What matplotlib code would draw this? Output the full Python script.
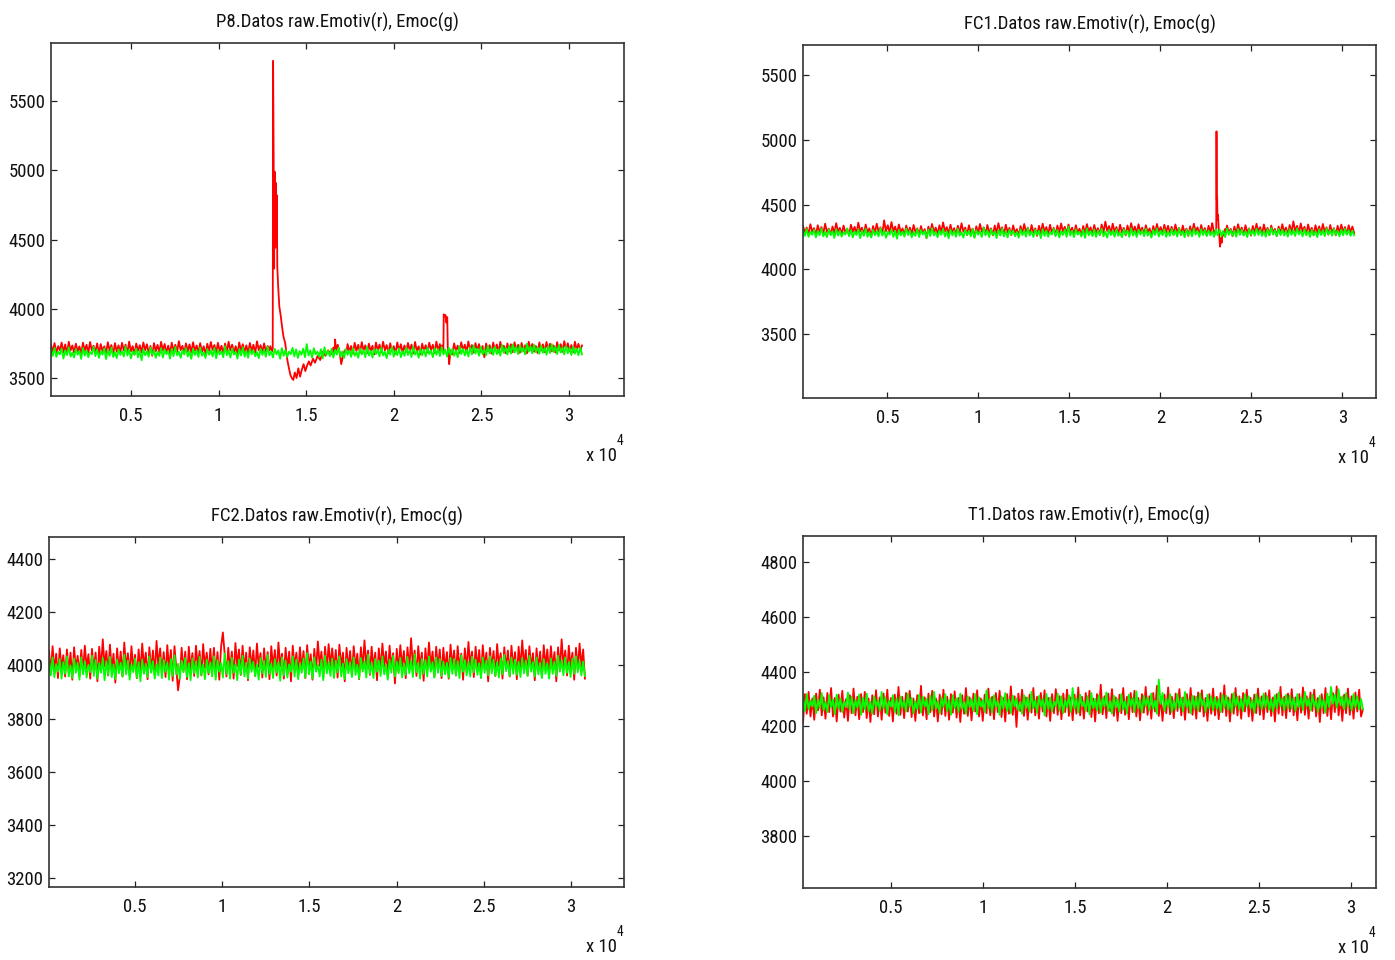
import numpy as np
import matplotlib
matplotlib.use("Agg")
import matplotlib.pyplot as plt

plt.rcParams['font.family'] = ['Liberation Sans Narrow', 'Roboto Condensed', 'Open Sans Condensed',
                               'Liberation Sans', 'DejaVu Sans']

RED = '#ff0000'
GREEN = '#00ff00'

# ---------------- P8 ----------------
p8_title = 'P8.Datos raw.Emotiv(r), Emoc(g)'
p8_span = (433, 30742)
p8_green = [
    3705, 3660, 3718, 3652, 3690, 3671, 3712, 3640, 3698, 3665, 3722, 3655, 3684, 3648, 3710, 3668, 3695, 3638, 3716, 3662,
    3700, 3650, 3688, 3672, 3725, 3658, 3706, 3645, 3692, 3669, 3714, 3636, 3702, 3660, 3720, 3652, 3686, 3644, 3708, 3666,
    3696, 3655, 3728, 3662, 3704, 3641, 3690, 3670, 3712, 3650, 3699, 3628, 3708, 3664, 3694, 3653, 3720, 3667, 3702, 3645,
    3688, 3660, 3715, 3648, 3706, 3672, 3697, 3640, 3710, 3658, 3724, 3663, 3690, 3646, 3703, 3670, 3716, 3655, 3692, 3638,
    3712, 3666, 3700, 3652, 3720, 3661, 3686, 3644, 3709, 3668, 3698, 3656, 3717, 3642, 3705, 3670, 3693, 3650, 3730, 3664,
    3701, 3648, 3714, 3669, 3690, 3640, 3708, 3662, 3722, 3655, 3696, 3646, 3711, 3671, 3700, 3657, 3688, 3643, 3712, 3666,
    3704, 3653, 3726, 3664, 3692, 3648, 3710, 3670, 3699, 3639, 3716, 3660, 3703, 3652, 3690, 3672, 3718, 3656, 3707, 3645,
    3694, 3668, 3712, 3650, 3745, 3662, 3700, 3647, 3715, 3671, 3690, 3654, 3708, 3641, 3722, 3665, 3697, 3657, 3711, 3648,
    3703, 3669, 3720, 3655, 3692, 3644, 3709, 3667, 3698, 3652, 3716, 3661, 3688, 3646, 3713, 3670, 3701, 3650, 3724, 3663,
    3696, 3648, 3710, 3672, 3704, 3656, 3719, 3662, 3690, 3643, 3707, 3668, 3722, 3654, 3699, 3665, 3714, 3650, 3693, 3660,
    3718, 3666, 3702, 3651, 3726, 3669, 3695, 3646, 3711, 3663, 3705, 3655, 3720, 3672, 3698, 3650, 3716, 3667, 3709, 3658,
    3724, 3670, 3706, 3654, 3719, 3666, 3712, 3660, 3700, 3649, 3728, 3673, 3710, 3662, 3704, 3656, 3721, 3670, 3735, 3676,
    3712, 3660, 3727, 3671, 3708, 3664, 3733, 3678, 3716, 3666, 3725, 3672, 3709, 3661, 3738, 3680, 3720, 3669, 3730, 3676,
    3742, 3684, 3724, 3672, 3736, 3688, 3719, 3670, 3748, 3690, 3728, 3678, 3740, 3686, 3722, 3674, 3735, 3682, 3717, 3668,
    3730, 3680, 3744, 3688, 3725, 3672, 3738, 3684, 3720, 3670, 3732, 3678, 3718, 3666, 3726, 3675, 3712, 3664, 3722, 3670,
]
p8_red = [
    3738, 3692, 3752, 3680, 3730, 3700, 3756, 3686, 3742, 3674, 3762, 3698, 3735, 3684, 3748, 3690, 3728, 3676, 3755, 3695,
    3740, 3682, 3760, 3700, 3733, 3688, 3750, 3672, 3745, 3694, 3729, 3681, 3758, 3697, 3738, 3670, 3752, 3690, 3736, 3684,
    3754, 3699, 3741, 3678, 3763, 3692, 3730, 3668, 3749, 3696, 3737, 3685, 3757, 3700, 3744, 3680, 3731, 3660, 3752, 3693,
    3739, 3686, 3761, 3698, 3746, 3681, 3734, 3675, 3755, 3694, 3740, 3688, 3766, 3701, 3732, 3677, 3750, 3691, 3743, 3684,
    3758, 3697, 3735, 3680, 3752, 3690, 3729, 3668, 3747, 3695, 3760, 3702, 3738, 3683, 3754, 3692, 3733, 3676, 3749, 3688,
    3762, 3699, 3741, 3682, 3730, 3673, 3757, 3696, 3744, 3686, 3736, 3679, 3753, 3694, 3740, 3681, 3765, 3700, 3737, 3685,
    3750, 3692, 3731, 3700, 3690, 3660, 3600, 3550, 3510, 3500, 3520, 3540, 3560, 3580, 3600, 3620, 3640, 3660, 3680, 3690,
    3700, 3690, 3700, 3690, 3700, 3690, 3700, 3690, 3700, 3690, 3700, 3690, 3700, 3690, 3700, 3690, 3700, 3690, 3700, 3690,
    3700, 3690, 3700, 3690, 3700, 3690, 3700, 3745, 3688, 3731, 3676, 3754, 3695, 3740, 3682, 3759, 3698, 3736, 3680, 3748,
    3692, 3733, 3670, 3756, 3697, 3742, 3685, 3762, 3700, 3738, 3679, 3751, 3694, 3730, 3674, 3757, 3696, 3744, 3683, 3735,
    3688, 3753, 3699, 3741, 3677, 3760, 3692, 3729, 3670, 3748, 3695, 3737, 3684, 3755, 3700, 3740, 3681, 3763, 3697, 3745,
    3690, 3700, 3690, 3700, 3690, 3700, 3690, 3750, 3693, 3734, 3681, 3758, 3699, 3741, 3686, 3764, 3702, 3738, 3683, 3752,
    3696, 3745, 3688, 3731, 3650, 3749, 3694, 3737, 3676, 3756, 3700, 3742, 3684, 3761, 3697, 3733, 3679, 3750, 3691, 3744,
    3686, 3758, 3701, 3740, 3682, 3753, 3695, 3736, 3678, 3762, 3703, 3746, 3690, 3731, 3680, 3757, 3698, 3743, 3687, 3760,
    3704, 3748, 3692, 3735, 3684, 3759, 3700, 3744, 3689, 3766, 3706, 3751, 3695, 3738, 3686, 3762, 3703, 3747, 3700, 3735,
]
# artefact around sample 13100 and its slow recovery
p8_evt1_x = [12950, 13050, 13090, 13110, 13140, 13170, 13200, 13230, 13260, 13290, 13320, 13350, 13400,
             13465, 13545, 13620, 13700, 13800, 13920, 14000, 14100, 14200, 14265, 14350, 14450, 14550,
             14650, 14750, 14850, 14950, 15030, 15150, 15250, 15390, 15500, 15650, 15800, 15950, 16100,
             16250, 16400, 16550, 16620, 16650, 16700, 16800, 16900, 17000, 17100, 17200, 17300]
p8_evt1_y = [3730, 3690, 3715, 5790, 5130, 4290, 4990, 4440, 4910, 4480, 4820, 4300, 4160,
             4017, 3950, 3872, 3800, 3752, 3632, 3580, 3520, 3495, 3486, 3540, 3500, 3570,
             3510, 3560, 3600, 3550, 3583, 3620, 3590, 3640, 3610, 3660, 3630, 3690, 3660,
             3700, 3670, 3720, 3680, 3778, 3700, 3740, 3690, 3600, 3660, 3700, 3690]
# short step near sample 22850
p8_evt2_x = [22650, 22750, 22830, 22850, 22900, 22950, 23000, 23050, 23080, 23120, 23160, 23200, 23260, 23330, 23400]
p8_evt2_y = [3690, 3735, 3700, 3960, 3945, 3955, 3900, 3940, 3720, 3680, 3600, 3650, 3700, 3670, 3720]
p8_xlim = (433, 33139)
p8_ylim = (3370, 5919)
p8_yticks = [3500, 4000, 4500, 5000, 5500]

# ---------------- FC1 ----------------
fc1_title = 'FC1.Datos raw.Emotiv(r), Emoc(g)'
fc1_span = (369, 30650)
fc1_green = [
    4300, 4258, 4312, 4250, 4290, 4266, 4305, 4246, 4296, 4262, 4315, 4254, 4288, 4248, 4308, 4264, 4294, 4242, 4310, 4260,
    4298, 4252, 4286, 4268, 4316, 4256, 4302, 4246, 4292, 4265, 4309, 4240, 4299, 4258, 4313, 4251, 4287, 4245, 4305, 4263,
    4294, 4254, 4318, 4260, 4301, 4243, 4289, 4267, 4308, 4250, 4297, 4236, 4304, 4261, 4291, 4252, 4314, 4264, 4300, 4246,
    4288, 4258, 4310, 4249, 4303, 4268, 4295, 4242, 4307, 4256, 4317, 4261, 4290, 4247, 4300, 4266, 4311, 4253, 4292, 4240,
    4307, 4262, 4298, 4251, 4313, 4259, 4287, 4245, 4305, 4265, 4296, 4254, 4311, 4243, 4302, 4267, 4293, 4250, 4322, 4262,
    4299, 4248, 4309, 4266, 4290, 4241, 4304, 4260, 4315, 4253, 4295, 4246, 4306, 4268, 4298, 4255, 4288, 4244, 4308, 4263,
    4301, 4252, 4318, 4262, 4292, 4249, 4306, 4267, 4297, 4240, 4310, 4258, 4300, 4251, 4290, 4268, 4312, 4255, 4304, 4246,
    4293, 4265, 4307, 4250, 4330, 4260, 4298, 4248, 4309, 4267, 4290, 4253, 4304, 4242, 4316, 4262, 4296, 4256, 4307, 4249,
    4300, 4266, 4314, 4254, 4291, 4245, 4305, 4264, 4297, 4251, 4310, 4259, 4288, 4247, 4308, 4267, 4299, 4250, 4317, 4261,
    4295, 4249, 4306, 4268, 4301, 4255, 4313, 4260, 4290, 4244, 4304, 4265, 4316, 4253, 4298, 4263, 4309, 4250, 4293, 4258,
    4311, 4263, 4299, 4252, 4318, 4266, 4294, 4247, 4306, 4261, 4302, 4254, 4314, 4268, 4297, 4250, 4310, 4264, 4304, 4256,
    4300, 4262, 4295, 4250, 4310, 4262, 4306, 4256, 4297, 4248, 4315, 4266, 4302, 4258, 4298, 4252, 4312, 4265, 4306, 4260,
    4293, 4248, 4312, 4266, 4301, 4259, 4314, 4265, 4304, 4257, 4296, 4251, 4309, 4262, 4318, 4268, 4300, 4256, 4312, 4263,
    4306, 4260, 4298, 4252, 4311, 4265, 4302, 4257, 4316, 4269, 4299, 4254, 4310, 4262, 4296, 4250, 4305, 4261, 4292, 4248,
    4309, 4264, 4300, 4256, 4316, 4268, 4304, 4259, 4312, 4266, 4298, 4254, 4307, 4262, 4313, 4267, 4302, 4258, 4299, 4262,
]
fc1_red = [
    4335, 4282, 4322, 4272, 4348, 4290, 4318, 4266, 4340, 4286, 4326, 4276, 4352, 4288, 4314, 4268, 4330, 4280, 4356, 4292,
    4320, 4270, 4338, 4284, 4312, 4262, 4344, 4288, 4328, 4274, 4360, 4292, 4322, 4266, 4346, 4284, 4316, 4252, 4334, 4280,
    4352, 4290, 4324, 4270, 4378, 4294, 4340, 4282, 4365, 4292, 4330, 4274, 4346, 4286, 4316, 4262, 4338, 4280, 4322, 4270,
    4342, 4286, 4316, 4264, 4334, 4278, 4310, 4240, 4330, 4280, 4350, 4288, 4322, 4270, 4340, 4284, 4362, 4292, 4326, 4274,
    4344, 4284, 4318, 4266, 4336, 4280, 4355, 4290, 4322, 4264, 4340, 4284, 4314, 4248, 4332, 4276, 4350, 4290, 4324, 4270,
    4342, 4284, 4316, 4262, 4338, 4280, 4356, 4292, 4324, 4268, 4344, 4286, 4320, 4264, 4339, 4280, 4310, 4260, 4334, 4278,
    4350, 4288, 4322, 4266, 4342, 4282, 4316, 4258, 4336, 4278, 4352, 4290, 4326, 4270, 4344, 4284, 4320, 4264, 4338, 4280,
    4354, 4292, 4328, 4272, 4346, 4286, 4322, 4266, 4340, 4282, 4314, 4260, 4334, 4278, 4349, 4290, 4324, 4268, 4342, 4284,
    4318, 4264, 4346, 4286, 4368, 4296, 4334, 4278, 4352, 4290, 4326, 4270, 4344, 4286, 4320, 4262, 4338, 4280, 4356, 4292,
    4330, 4274, 4348, 4288, 4322, 4266, 4340, 4282, 4316, 4260, 4334, 4278, 4350, 4290, 4326, 4272, 4344, 4286, 4336, 4282,
    4328, 4272, 4346, 4288, 4320, 4264, 4338, 4282, 4314, 4258, 4332, 4276, 4352, 4290, 4324, 4268, 4342, 4284, 4318, 4262,
    4336, 4280, 4356, 4292, 4326, 4270, 4344, 4286, 4318, 4262, 4338, 4282, 4312, 4256, 4330, 4276, 4348, 4288, 4322, 4266,
    4340, 4284, 4316, 4260, 4334, 4278, 4352, 4290, 4326, 4270, 4346, 4286, 4320, 4264, 4338, 4282, 4312, 4256, 4330, 4276,
    4348, 4288, 4322, 4266, 4342, 4284, 4370, 4294, 4336, 4280, 4354, 4292, 4328, 4272, 4346, 4286, 4320, 4264, 4340, 4282,
    4332, 4276, 4350, 4290, 4324, 4268, 4342, 4284, 4318, 4262, 4336, 4280, 4345, 4288, 4326, 4270, 4340, 4284, 4330, 4280,
]
fc1_evt_x = [22900, 22980, 23040, 23070, 23085, 23100, 23120, 23140, 23170, 23200, 23240, 23280, 23320, 23370, 23420, 23480, 23550]
fc1_evt_y = [4320, 4270, 4300, 4310, 5065, 4540, 4560, 4380, 4420, 4330, 4250, 4175, 4240, 4205, 4290, 4260, 4310]
fc1_xlim = (369, 31847)
fc1_ylim = (3006, 5732)
fc1_yticks = [3500, 4000, 4500, 5000, 5500]

# ---------------- FC2 ----------------
fc2_title = 'FC2.Datos raw.Emotiv(r), Emoc(g)'
fc2_span = (69, 30800)
fc2_green = [
    4018, 3962, 4030, 3955, 4005, 3976, 4024, 3950, 4012, 3968, 4034, 3958, 4000, 3952, 4026, 3972, 4010, 3946, 4030, 3966,
    4014, 3954, 4002, 3975, 4036, 3960, 4020, 3950, 4008, 3972, 4028, 3944, 4016, 3964, 4032, 3956, 4004, 3948, 4022, 3970,
    4010, 3958, 4040, 3966, 4018, 3946, 4004, 3974, 4026, 3954, 4012, 3940, 4022, 3968, 4006, 3956, 4034, 3972, 4016, 3950,
    4004, 3962, 4030, 3952, 4020, 3976, 4010, 3946, 4024, 3960, 4038, 3966, 4006, 3950, 4018, 3974, 4028, 3956, 4008, 3944,
    4026, 3970, 4014, 3954, 4032, 3964, 4002, 3948, 4022, 3972, 4012, 3958, 4034, 3946, 4020, 3976, 4008, 3954, 4045, 3968,
    4016, 3950, 4028, 3972, 4004, 3944, 4022, 3966, 4036, 3958, 4010, 3950, 4026, 3976, 4014, 3960, 4002, 3946, 4028, 3970,
    4018, 3956, 4040, 3968, 4006, 3952, 4024, 3974, 4012, 3942, 4030, 3962, 4018, 3954, 4004, 3976, 4034, 3958, 4022, 3948,
    4008, 3972, 4026, 3954, 4046, 3966, 4014, 3950, 4030, 3976, 4004, 3958, 4022, 3944, 4036, 3970, 4012, 3960, 4026, 3952,
    4018, 3974, 4034, 3958, 4006, 3948, 4024, 3970, 4012, 3956, 4030, 3964, 4002, 3950, 4028, 3976, 4016, 3954, 4040, 3968,
    4010, 3952, 4024, 3976, 4018, 3960, 4034, 3966, 4004, 3946, 4022, 3972, 4036, 3958, 4014, 3970, 4028, 3954, 4008, 3964,
    4032, 3970, 4016, 3956, 4042, 3974, 4010, 3950, 4024, 3968, 4020, 3958, 4034, 3976, 4012, 3954, 4030, 3972, 4024, 3960,
    4014, 3966, 4010, 3954, 4028, 3968, 4024, 3962, 4016, 3952, 4038, 3976, 4020, 3962, 4014, 3958, 4032, 3974, 4022, 3964,
    4008, 3952, 4030, 3972, 4018, 3962, 4034, 3970, 4022, 3960, 4012, 3954, 4026, 3966, 4040, 3978, 4016, 3960, 4030, 3968,
    4022, 3964, 4014, 3956, 4028, 3970, 4018, 3960, 4036, 3976, 4012, 3958, 4030, 3966, 4010, 3952, 4024, 3968, 4006, 3950,
    4026, 3968, 4014, 3960, 4036, 3976, 4020, 3962, 4030, 3972, 4012, 3956, 4026, 3968, 4034, 3974, 4018, 3962, 4014, 3960,
]
fc2_red = [
    4055, 3968, 4072, 3980, 4044, 3952, 4064, 3990, 4038, 3958, 4060, 3975, 4048, 3946, 4068, 3985, 4036, 3960, 4058, 3978,
    4074, 3990, 4042, 3950, 4062, 3976, 4048, 3940, 4070, 3988, 4098, 3996, 4054, 3962, 4078, 3982, 4044, 3935, 4064, 3976,
    4052, 3958, 4086, 3988, 4046, 3962, 4072, 3984, 4040, 3952, 4060, 3972, 4082, 3990, 4048, 3948, 4068, 3978, 4056, 3962,
    4092, 3994, 4064, 3968, 4050, 3956, 4076, 3984, 4058, 3942, 4072, 3988, 3906, 3958, 4066, 3978, 4052, 3948, 4070, 3984,
    4046, 3960, 4074, 3992, 4054, 3962, 4080, 3990, 4048, 3966, 4062, 3974, 4066, 3964, 4050, 3946, 4070, 4124, 4044, 3958,
    4066, 3980, 4052, 3950, 4084, 3996, 4060, 3964, 4074, 3984, 4048, 3944, 4068, 3988, 4056, 3960, 4082, 3994, 4046, 3954,
    4064, 3978, 4050, 3948, 4072, 3990, 4058, 3962, 4086, 3996, 4044, 3950, 4066, 3982, 4052, 3940, 4074, 3990, 4048, 3958,
    4068, 3984, 4054, 3952, 4076, 3994, 4042, 3946, 4062, 3980, 4090, 3998, 4052, 3956, 4070, 3986, 4080, 3996, 4064, 3982,
    4058, 3954, 4078, 3994, 4048, 3940, 4066, 3984, 4054, 3960, 4072, 3990, 4044, 3948, 4068, 3986, 4094, 4000, 4056, 3964,
    4070, 3988, 4048, 3944, 4064, 3980, 4082, 3996, 4052, 3958, 4074, 3992, 4046, 3932, 4062, 3978, 4076, 3994, 4054, 3952,
    4068, 3986, 4102, 3998, 4056, 3960, 4072, 3990, 4048, 3942, 4064, 3982, 4086, 3996, 4052, 3956, 4070, 3988, 4060, 3952,
    4066, 3984, 4050, 3950, 4078, 3994, 4056, 3962, 4072, 3988, 4044, 3946, 4064, 3980, 4088, 3998, 4052, 3956, 4070, 3986,
    4058, 3954, 4076, 3992, 4048, 3940, 4066, 3984, 4054, 3960, 4080, 3996, 4046, 3950, 4068, 3986, 4056, 3958, 4074, 3990,
    4050, 3948, 4070, 3988, 4094, 3998, 4058, 3962, 4072, 3990, 4046, 3944, 4064, 3982, 4052, 3956, 4076, 3994, 4060, 3966,
    4072, 3988, 4050, 3940, 4068, 3984, 4098, 3998, 4056, 3962, 4074, 3990, 4048, 3946, 4066, 3984, 4082, 3996, 4060, 3950,
]
fc2_xlim = (69, 33039)
fc2_ylim = (3166, 4483)
fc2_yticks = [3200, 3400, 3600, 3800, 4000, 4200, 4400]

# ---------------- T1 ----------------
t1_title = 'T1.Datos raw.Emotiv(r), Emoc(g)'
t1_span = (207, 30650)
t1_green = [
    4306, 4256, 4318, 4262, 4294, 4272, 4312, 4248, 4300, 4266, 4322, 4258, 4290, 4252, 4314, 4270, 4298, 4244, 4316, 4264,
    4302, 4252, 4292, 4270, 4324, 4260, 4308, 4248, 4296, 4268, 4316, 4242, 4304, 4262, 4320, 4254, 4290, 4246, 4310, 4268,
    4298, 4256, 4326, 4264, 4306, 4244, 4294, 4272, 4314, 4252, 4302, 4240, 4310, 4266, 4296, 4254, 4320, 4270, 4304, 4248,
    4292, 4262, 4316, 4250, 4308, 4272, 4300, 4244, 4312, 4258, 4326, 4264, 4294, 4248, 4306, 4270, 4318, 4256, 4296, 4242,
    4314, 4266, 4302, 4252, 4320, 4262, 4290, 4246, 4310, 4270, 4300, 4256, 4318, 4244, 4306, 4272, 4296, 4252, 4332, 4264,
    4304, 4250, 4314, 4270, 4294, 4242, 4310, 4264, 4322, 4256, 4298, 4248, 4312, 4272, 4302, 4258, 4290, 4246, 4314, 4266,
    4306, 4254, 4326, 4266, 4296, 4250, 4312, 4272, 4300, 4240, 4318, 4262, 4306, 4254, 4292, 4272, 4320, 4258, 4310, 4248,
    4296, 4270, 4314, 4252, 4340, 4264, 4302, 4250, 4316, 4272, 4294, 4256, 4310, 4244, 4322, 4266, 4300, 4258, 4314, 4250,
    4304, 4272, 4324, 4256, 4294, 4246, 4312, 4268, 4300, 4254, 4318, 4262, 4292, 4248, 4316, 4272, 4304, 4252, 4328, 4264,
    4298, 4250, 4312, 4272, 4306, 4258, 4320, 4264, 4294, 4246, 4371, 4282, 4322, 4256, 4302, 4268, 4318, 4252, 4296, 4262,
    4318, 4268, 4304, 4254, 4326, 4270, 4298, 4248, 4312, 4264, 4308, 4256, 4320, 4272, 4300, 4252, 4316, 4266, 4310, 4258,
    4306, 4264, 4300, 4252, 4316, 4266, 4312, 4260, 4302, 4250, 4322, 4270, 4308, 4262, 4300, 4256, 4318, 4272, 4310, 4264,
    4296, 4250, 4318, 4270, 4306, 4262, 4320, 4268, 4310, 4260, 4300, 4254, 4314, 4266, 4324, 4272, 4304, 4258, 4316, 4266,
    4312, 4264, 4304, 4256, 4318, 4270, 4306, 4260, 4326, 4274, 4302, 4258, 4316, 4268, 4300, 4252, 4312, 4266, 4298, 4250,
    4320, 4270, 4344, 4282, 4316, 4268, 4336, 4276, 4310, 4262, 4322, 4270, 4304, 4258, 4318, 4268, 4310, 4262, 4300, 4262,
]
t1_red = [
    4212, 4318, 4246, 4326, 4236, 4302, 4224, 4320, 4258, 4334, 4240, 4306, 4228, 4322, 4252, 4340, 4236, 4304, 4218, 4316,
    4254, 4330, 4232, 4300, 4220, 4314, 4248, 4338, 4240, 4308, 4226, 4318, 4252, 4326, 4230, 4302, 4216, 4314, 4244, 4332,
    4236, 4306, 4224, 4320, 4250, 4334, 4238, 4304, 4218, 4316, 4246, 4344, 4242, 4308, 4230, 4322, 4254, 4330, 4234, 4302,
    4220, 4314, 4248, 4348, 4240, 4306, 4226, 4320, 4252, 4330, 4236, 4302, 4218, 4316, 4244, 4334, 4238, 4308, 4224, 4318,
    4250, 4328, 4232, 4304, 4216, 4314, 4246, 4340, 4238, 4306, 4222, 4320, 4254, 4332, 4236, 4302, 4220, 4316, 4248, 4338,
    4240, 4308, 4226, 4322, 4252, 4330, 4234, 4304, 4218, 4318, 4246, 4346, 4242, 4310, 4198, 4320, 4256, 4334, 4238, 4306,
    4224, 4316, 4250, 4340, 4240, 4308, 4228, 4322, 4254, 4332, 4236, 4304, 4220, 4318, 4248, 4336, 4242, 4310, 4226, 4320,
    4252, 4334, 4238, 4306, 4222, 4316, 4246, 4342, 4240, 4308, 4228, 4322, 4254, 4330, 4234, 4302, 4218, 4318, 4248, 4352,
    4244, 4310, 4230, 4320, 4256, 4336, 4238, 4306, 4220, 4316, 4248, 4340, 4242, 4308, 4226, 4322, 4252, 4330, 4236, 4304,
    4222, 4318, 4250, 4344, 4242, 4310, 4228, 4322, 4254, 4348, 4238, 4306, 4220, 4316, 4248, 4342, 4244, 4308, 4230, 4320,
    4256, 4336, 4240, 4306, 4224, 4318, 4250, 4340, 4242, 4310, 4228, 4324, 4254, 4332, 4236, 4304, 4220, 4318, 4246, 4338,
    4240, 4308, 4226, 4322, 4252, 4350, 4238, 4306, 4218, 4318, 4246, 4340, 4240, 4310, 4228, 4322, 4254, 4334, 4236, 4304,
    4220, 4316, 4248, 4338, 4242, 4310, 4226, 4322, 4252, 4332, 4238, 4306, 4218, 4318, 4246, 4344, 4240, 4308, 4230, 4320,
    4254, 4336, 4240, 4306, 4222, 4318, 4250, 4342, 4242, 4310, 4228, 4324, 4256, 4334, 4236, 4304, 4216, 4318, 4248, 4340,
    4238, 4308, 4226, 4322, 4252, 4346, 4240, 4306, 4220, 4316, 4248, 4338, 4242, 4310, 4228, 4324, 4254, 4334, 4236, 4262,
]
t1_xlim = (207, 31362)
t1_ylim = (3610, 4895)
t1_yticks = [3800, 4000, 4200, 4400, 4600, 4800]

xticks = [5000, 10000, 15000, 20000, 25000, 30000]
xtick_labels = ['0.5', '1', '1.5', '2', '2.5', '3']


def splice(x, y, ex, ey):
    """Replace the samples inside [ex[0], ex[-1]] by the event samples."""
    ex = np.asarray(ex, float)
    ey = np.asarray(ey, float)
    keep = (x < ex[0]) | (x > ex[-1])
    xx = np.concatenate([x[keep], ex])
    yy = np.concatenate([y[keep], ey])
    order = np.argsort(xx, kind='stable')
    return xx[order], yy[order]


def channel(span, values):
    v = np.asarray(values, float)
    return np.linspace(span[0], span[1], len(v)), v


FS = 13.5
TXT = '#111111'

fig = plt.figure(figsize=(13.95, 9.60), dpi=100)
fig.patch.set_facecolor('white')

W = 1395.0
H = 960.0


def make_axes(left, top, right, bottom):
    return fig.add_axes([left / W, 1 - bottom / H, (right - left) / W, (bottom - top) / H])


panels = []

# P8
ax = make_axes(51, 43, 624, 396)
xr, yr = channel(p8_span, p8_red)
xr, yr = splice(xr, yr, p8_evt1_x, p8_evt1_y)
xr, yr = splice(xr, yr, p8_evt2_x, p8_evt2_y)
xg, yg = channel(p8_span, p8_green)
panels.append((ax, p8_title, xr, yr, xg, yg, p8_xlim, p8_ylim, p8_yticks))

# FC1
ax = make_axes(803, 45, 1376, 398)
xr, yr = channel(fc1_span, fc1_red)
xr, yr = splice(xr, yr, fc1_evt_x, fc1_evt_y)
xg, yg = channel(fc1_span, fc1_green)
panels.append((ax, fc1_title, xr, yr, xg, yg, fc1_xlim, fc1_ylim, fc1_yticks))

# FC2
ax = make_axes(49, 537, 624, 887)
xr, yr = channel(fc2_span, fc2_red)
xg, yg = channel(fc2_span, fc2_green)
panels.append((ax, fc2_title, xr, yr, xg, yg, fc2_xlim, fc2_ylim, fc2_yticks))

# T1
ax = make_axes(803, 536, 1376, 888)
xr, yr = channel(t1_span, t1_red)
xg, yg = channel(t1_span, t1_green)
panels.append((ax, t1_title, xr, yr, xg, yg, t1_xlim, t1_ylim, t1_yticks))

for ax, title, xr, yr, xg, yg, xlim, ylim, yticks in panels:
    ax.plot(xr, yr, color=RED, lw=1.3)
    ax.plot(xg, yg, color=GREEN, lw=1.3)
    ax.set_xlim(*xlim)
    ax.set_ylim(*ylim)
    ax.set_xticks(xticks)
    ax.set_xticklabels(xtick_labels)
    ax.set_yticks(yticks)
    ax.set_yticklabels([str(t) for t in yticks])
    ax.tick_params(direction='in', length=4.5, width=0.9, colors='#222222',
                   labelsize=FS, top=True, right=True, labelcolor=TXT)
    ax.tick_params(axis='x', pad=8)
    ax.tick_params(axis='y', pad=4)
    for s in ax.spines.values():
        s.set_linewidth(1.2)
        s.set_color('#333333')
    ax.set_title(title, fontsize=FS, color=TXT, pad=11)
    # axis multiplier "x 10^4" below the right end of the x axis
    ax.annotate('x 10', xy=(1.0, 0.0), xycoords='axes fraction',
                xytext=(-7, -60), textcoords='offset pixels',
                ha='right', va='center', fontsize=FS, color=TXT)
    ax.annotate('4', xy=(1.0, 0.0), xycoords='axes fraction',
                xytext=(-7, -45), textcoords='offset pixels',
                ha='left', va='center', fontsize=FS * 0.72, color=TXT)

fig.savefig('out.png', dpi=100, facecolor='white')
